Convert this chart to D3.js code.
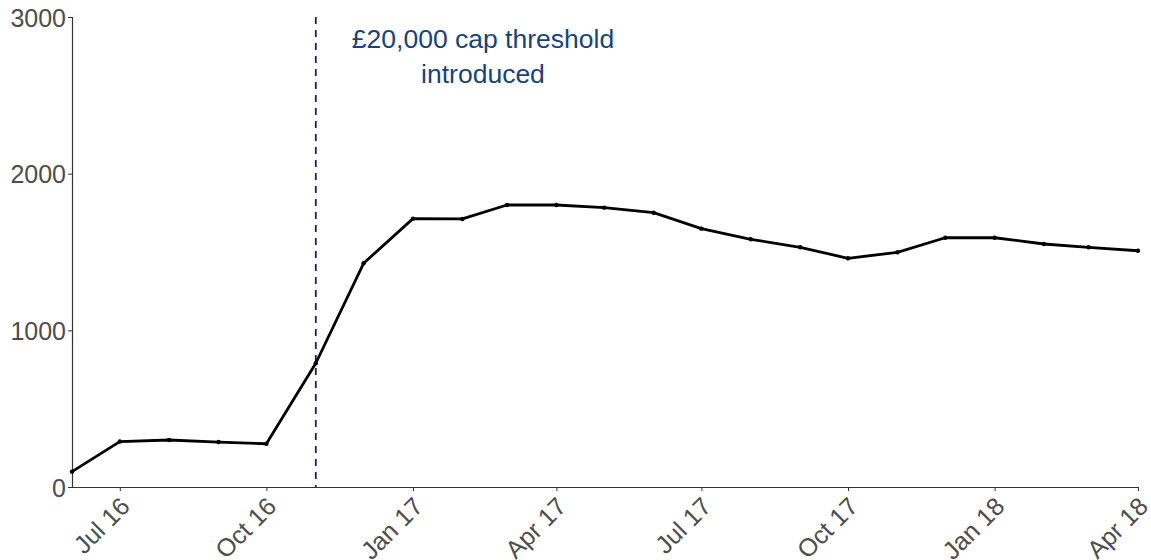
<!DOCTYPE html>
<html><head><meta charset="utf-8">
<script src="https://cdn.jsdelivr.net/npm/d3@7"></script>
<style>body{margin:0;background:#fff;} svg{display:block;}</style>
</head><body>
<svg id="chart" width="1151" height="560"></svg>
<script>
const months = ["2016-06","2016-07","2016-08","2016-09","2016-10","2016-11","2016-12",
  "2017-01","2017-02","2017-03","2017-04","2017-05","2017-06","2017-07","2017-08","2017-09",
  "2017-10","2017-11","2017-12","2018-01","2018-02","2018-03","2018-04"];
const values = [98,290,300,287,276,790,1428,1713,1711,1800,1800,1783,1751,1649,1581,1530,1460,1498,1591,1591,1551,1530,1508];
const tickMonths = ["2016-07","2016-10","2017-01","2017-04","2017-07","2017-10","2018-01","2018-04"];
const yTicks = [0,1000,2000,3000];
const capMonth = "2016-11";
const annotationLines = ["£20,000 cap threshold","introduced"];

const parse = d3.timeParse("%Y-%m");
const fmt = d3.timeFormat("%b %y");
const data = months.map((m,i)=>({date:parse(m), value:values[i]}));

const margin = {left:72, right:13, top:17, bottom:73};
const W = 1151, H = 560;
const svg = d3.select("#chart");

const x = d3.scaleTime().domain(d3.extent(data, d=>d.date)).range([margin.left, W - margin.right]);
const y = d3.scaleLinear().domain([0,3000]).range([H - margin.bottom, margin.top]);

const font = "'Liberation Sans', Arial, sans-serif";

// y axis
const yAxis = svg.append("g").attr("transform",`translate(${margin.left},0)`)
  .call(d3.axisLeft(y).tickValues(yTicks).tickSize(4).tickPadding(2).tickFormat(d3.format("d")));
yAxis.select(".domain").attr("stroke","#333").attr("stroke-width",1.2);
yAxis.selectAll(".tick line").attr("stroke","#333");
yAxis.selectAll(".tick text").attr("fill","#4d4d4d").style("font-family",font).style("font-size","25px").attr("dy","0.36em");

// x axis
const xAxis = svg.append("g").attr("transform",`translate(0,${H - margin.bottom})`)
  .call(d3.axisBottom(x).tickValues(tickMonths.map(parse)).tickSize(4).tickFormat(fmt).tickSizeOuter(0));
xAxis.select(".domain").attr("stroke","#333").attr("stroke-width",1.2);
xAxis.selectAll(".tick line").attr("stroke","#333");
xAxis.selectAll(".tick text").attr("fill","#4d4d4d").style("font-family",font).style("font-size","25px")
  .attr("text-anchor","end").attr("y",0).attr("dy",0)
  .attr("transform","translate(11,21) rotate(-45)");

// cap line
const cx = x(parse(capMonth));
svg.append("line").attr("x1",cx).attr("x2",cx).attr("y1",y(3000)).attr("y2",y(0))
  .attr("stroke","#1a1a7a").attr("stroke-width",1.8).attr("stroke-dasharray","7,6");

// line
svg.append("path").datum(data)
  .attr("fill","none").attr("stroke","#000").attr("stroke-width",2.8).attr("stroke-linejoin","round")
  .attr("d", d3.line().x(d=>x(d.date)).y(d=>y(d.value)));
svg.selectAll("circle.pt").data(data).join("circle").attr("class","pt")
  .attr("cx",d=>x(d.date)).attr("cy",d=>y(d.value)).attr("r",2.2).attr("fill","#000");

// annotation
const ann = svg.append("text").attr("x",483).attr("y",48).attr("text-anchor","middle")
  .attr("fill","#17437a").style("font-family",font).style("font-size","26.5px");
annotationLines.forEach((t,i)=>ann.append("tspan").attr("x",483).attr("dy", i===0?0:35).text(t));
</script>
</body></html>
